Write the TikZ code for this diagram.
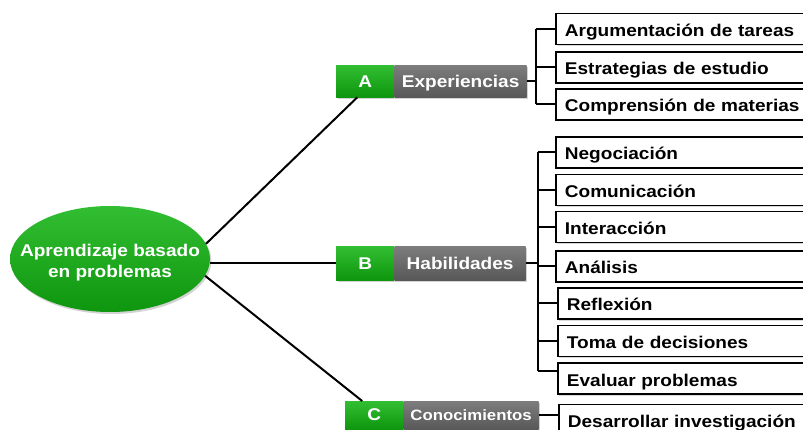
\documentclass[tikz,border=0pt]{standalone}
\usepackage{fontspec}
\setmainfont{Liberation Sans}[FakeStretch=1.12]
\usepackage{tikz}
\usetikzlibrary{positioning,shapes.geometric,shadows}

\definecolor{boxgreen}{RGB}{14,150,14}
\definecolor{lightgreen}{RGB}{50,190,50}
\definecolor{boxgray}{RGB}{88,88,88}
\definecolor{lightgray}{RGB}{125,125,125}

\begin{document}
\begin{tikzpicture}[x=1pt, y=-1pt, >=stealth,
	link/.style={line width=2pt},
	leaf/.style={draw, line width=1.8pt, fill=white, anchor=west,
		minimum height=31pt, text width=262pt, inner xsep=9pt, align=left,
		text height=15pt, text depth=0pt,
		font=\bfseries\fontsize{17}{20}\selectfont,
		drop shadow={opacity=0.3, shadow xshift=1pt, shadow yshift=-1.5pt}},
	letter box/.style={top color=lightgreen, bottom color=boxgreen, text=white,
		minimum width=58pt, inner sep=0pt, anchor=north west,
		text height=12pt, text depth=0pt,
		font=\bfseries\fontsize{17}{20}\selectfont,
		drop shadow={opacity=0.35, shadow xshift=1.5pt, shadow yshift=-1.5pt}},
	label box/.style={top color=lightgray, bottom color=boxgray, text=white,
		inner sep=0pt, text height=12pt, text depth=0pt,
		font=\bfseries\fontsize{17}{20}\selectfont,
		drop shadow={opacity=0.35, shadow xshift=1.5pt, shadow yshift=-1.5pt}}]
	
	\useasboundingbox (0,0) rectangle (803,430);
	\clip (0,0) rectangle (803,430);
	
	\node [ellipse, minimum width=200pt, minimum height=106pt, inner sep=0pt,
		top color=lightgreen, bottom color=boxgreen,
		drop shadow={opacity=0.35, shadow xshift=1.5pt, shadow yshift=-2pt}]
		(apb) at (110,259) {};
	\node [text=white, align=center, font=\bfseries\fontsize{17}{21}\selectfont]
		(apb-text) at ([yshift=-4pt]apb.center) {Aprendizaje basado\\en problemas};
	
	\node [letter box, minimum height=32pt] (A-letter) at (336,65) {A};
	\node [label box, minimum width=132pt, minimum height=32pt, right=0pt of A-letter] (A-label) {Experiencias};
	
	\node [letter box, minimum height=34pt] (B-letter) at (336,246) {B};
	\node [label box, minimum width=131pt, minimum height=34pt, right=0pt of B-letter] (B-label) {Habilidades};
	
	\node [letter box, minimum height=28pt, text height=11pt] (C-letter) at (345,401) {C};
	\node [label box, minimum width=135pt, minimum height=28pt, right=0pt of C-letter,
		text height=11pt, font=\bfseries\fontsize{15}{18}\selectfont] (C-label) {Conocimientos};
	
	\foreach \t/\y [count=\i] in {Argumentación de tareas/29, Estrategias de estudio/67.5,
		Comprensión de materias/104.5}
	\node [leaf] (exp-\i) at (555,\y) {\t};
	
	\foreach \t/\x/\y [count=\i] in {Negociación/555/152.5, Comunicación/555/190,
		Interacción/555/227, Análisis/555/266.5, Reflexión/557/303.5,
		Toma de decisiones/557/341, Evaluar problemas/557/378.5}
	\node [leaf] (hab-\i) at (\x,\y) {\t};
	
	\node [leaf] (con-1) at (558,420) {Desarrollar investigación};
	
	% ellipse to the three branches
	\draw [link] (apb.9) -- ([xshift=-8pt]A-letter.south);
	\draw [link] (apb.east |- B-letter.west) -- (B-letter.west);
	\draw [link] (apb.-10) -- ([xshift=-12pt]C-letter.north);
	
	% brackets
	\draw [link] (A-label.east) -- ++(9,0) coordinate (exp-joint);
	\draw [link] (exp-joint |- exp-1.west) -- (exp-joint |- exp-3.west);
	\foreach \i in {1,...,3}
	\draw [link] (exp-joint |- exp-\i.west) -- (exp-\i.west);
	
	\coordinate (hab-end) at ([yshift=8pt]hab-7.west);
	\draw [link] (B-label.east) -- ++(12,0) coordinate (hab-joint);
	\draw [link] (hab-joint |- hab-1.west) -- (hab-joint |- hab-end);
	\foreach \i in {1,...,6}
	\draw [link] (hab-joint |- hab-\i.west) -- (hab-\i.west);
	\draw [link] (hab-joint |- hab-end) -- (hab-end);
	
	\draw [link] (C-label.east) -- (C-label.east -| con-1.west);
	
\end{tikzpicture}
\end{document}
